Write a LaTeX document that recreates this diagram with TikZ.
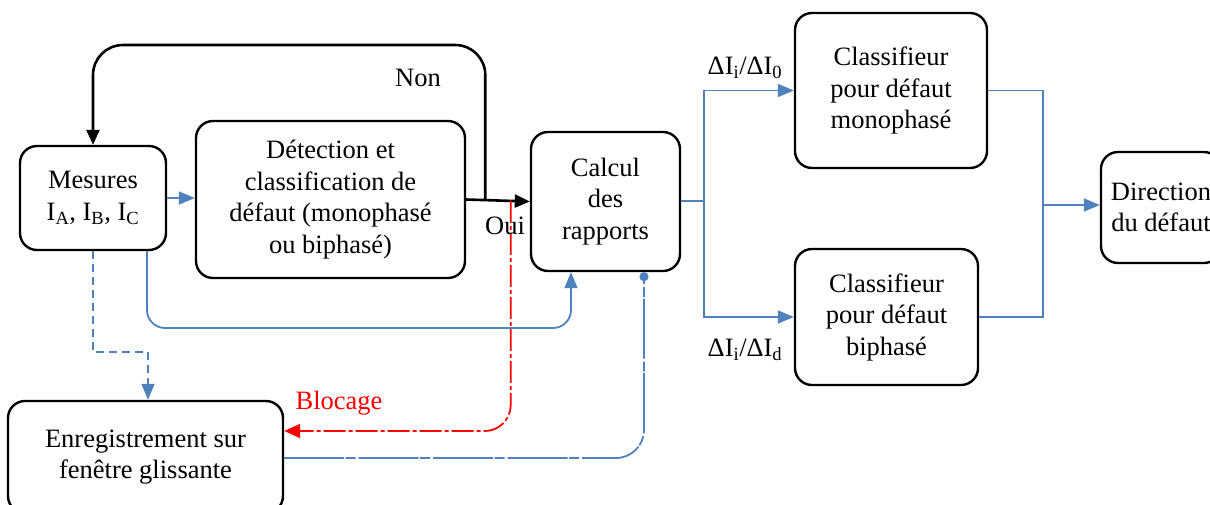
\documentclass[tikz,border=0pt]{standalone}
\usepackage{fontspec}
\setmainfont{Liberation Serif}
\usetikzlibrary{arrows.meta, calc, positioning}
\definecolor{LineBlue}{HTML}{4F81BD}
\definecolor{AlarmRed}{HTML}{FF0000}

\begin{document}
\begin{tikzpicture}[x=1pt, y=-1pt,
      box/.style={draw=black, line width=2.4pt, rounded corners=17pt, align=center,
                  font=\fontsize{26.5}{31.5}\selectfont, inner sep=0pt},
      blueline/.style={draw=LineBlue, line width=1.8pt},
      bluearrow/.style={blueline, -{Triangle[length=16pt,width=13pt]}},
      blackarrow/.style={draw=black, line width=2.6pt, -{Triangle[length=15pt,width=13pt]}},
      redline/.style={draw=AlarmRed, line width=1.8pt, dash pattern=on 22pt off 3pt on 4pt off 3pt,
                      -{Triangle[length=16pt,width=14pt]}},
      lab/.style={font=\fontsize{26.5}{31.5}\selectfont}]
      \clip (0,0) rectangle (1210,504);
      % Blocks
      \node[box, minimum width=146pt, minimum height=104pt] (mes)    at (93,198)    {Mesures\\I\textsubscript{A}, I\textsubscript{B}, I\textsubscript{C}};
      \node[box, minimum width=269pt, minimum height=157pt] (detect) at (330.5,199.5) {Détection et\\classification de\\défaut (monophasé\\ou biphasé)};
      \node[box, minimum width=149pt, minimum height=139pt] (calc)   at (605.5,201.5) {Calcul\\des\\rapports};
      \node[box, minimum width=192pt, minimum height=155pt] (mono)   at (891,90.5)  {Classifieur\\pour défaut\\monophasé};
      \node[box, minimum width=183pt, minimum height=136pt] (bi)     at (886.5,317) {Classifieur\\pour défaut\\biphasé};
      \node[box, minimum width=120pt, minimum height=111pt] (dir)    at (1161,207.5) {Direction\\du défaut};
      \node[box, minimum width=275pt, minimum height=112pt] (enreg)  at (145.5,457) {\raisebox{6pt}{\shortstack{Enregistrement sur\\[4pt]fenêtre glissante}}};
      % Split points on the detection output
      \coordinate (nonsplit) at ($(detect.east)!0.3!(calc.west)$);
      \coordinate (redsplit) at ($(detect.east)!0.7!(calc.west)$);
      \coordinate (fork) at (704,201);
      \coordinate (join) at (1043,205);
      % Main flow
      \draw[bluearrow] (mes.east) -- (mes.east -| detect.west);
      \draw[blackarrow] (detect.east) -- (calc.west);
      \draw[blackarrow, rounded corners=30pt] (nonsplit) -- (nonsplit |- 0,45) -- (mes.north |- 0,45) -- (mes.north);
      \draw[redline, rounded corners=26pt] (redsplit) -- (redsplit |- 0,431) -- (enreg.east |- 0,431);
      \draw[bluearrow, rounded corners=18pt] (mes.south -| 147,0) -- (147,328) -- (571,328) -- (calc.south -| 571,0);
      \draw[bluearrow, dash pattern=on 8pt off 5pt] (mes.south) -- (93,352) -- (148,352) -- (enreg.north -| 148,0);
      \draw[blueline, dash pattern=on 60pt off 1.5pt on 10pt off 3pt, -{Circle[length=9pt]}, rounded corners=28pt]
            (enreg.east |- 0,458) -- (644,458) -- (calc.south -| 644,0);
      % Classifiers
      \draw[blueline] (calc.east |- fork) -- (fork);
      \draw[bluearrow] (fork) |- (mono.west);
      \draw[bluearrow] (fork) |- (bi.west);
      \draw[blueline] (mono.east) -| (join);
      \draw[blueline] (bi.east) -| (join);
      \draw[bluearrow] (join) -- (join -| dir.west);
      % Labels
      \node[lab] (nonlab) at (418,78) {Non};
      \node[lab] (ouilab) at (505,226) {Oui};
      \node[lab, text=AlarmRed] (bloclab) at (339,403) {Blocage};
      \node[lab] (ratio0) at (745,68) {ΔI\textsubscript{i}/ΔI\textsubscript{0}};
      \node[lab] (ratiod) at (745,350) {ΔI\textsubscript{i}/ΔI\textsubscript{d}};
    \end{tikzpicture}
\end{document}
